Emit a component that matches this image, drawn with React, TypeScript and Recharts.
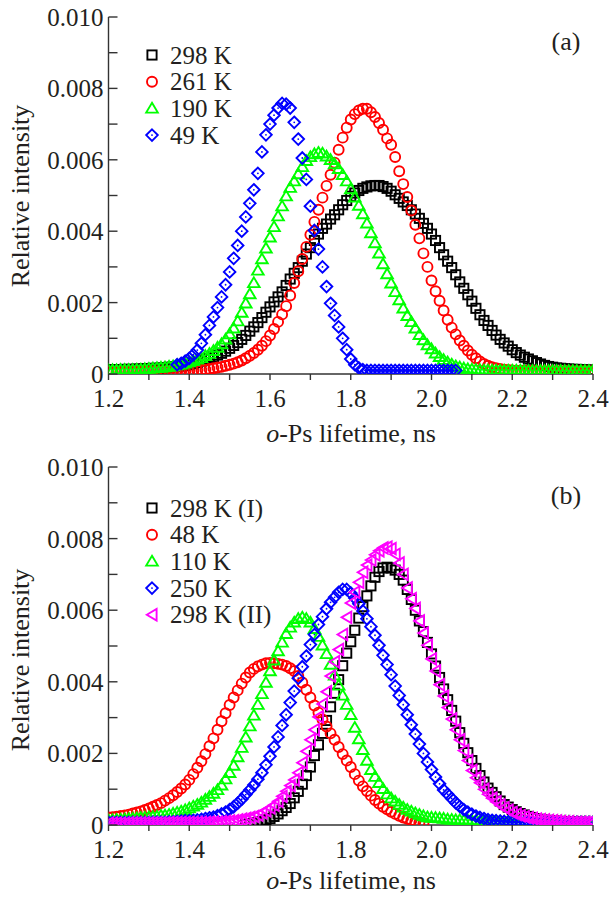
import { ScatterChart, Scatter, XAxis, YAxis, Legend } from "recharts";

type V = number | null;
type MarkerKind = "square" | "circle" | "triangle" | "diamond" | "left";

// o-Ps lifetime grid, ns
const lifetimes = [
  1.2, 1.21, 1.22, 1.23, 1.24, 1.25, 1.26, 1.27, 1.28, 1.29,
  1.3, 1.31, 1.32, 1.33, 1.34, 1.35, 1.36, 1.37, 1.38, 1.39,
  1.4, 1.41, 1.42, 1.43, 1.44, 1.45, 1.46, 1.47, 1.48, 1.49,
  1.5, 1.51, 1.52, 1.53, 1.54, 1.55, 1.56, 1.57, 1.58, 1.59,
  1.6, 1.61, 1.62, 1.63, 1.64, 1.65, 1.66, 1.67, 1.68, 1.69,
  1.7, 1.71, 1.72, 1.73, 1.74, 1.75, 1.76, 1.77, 1.78, 1.79,
  1.8, 1.81, 1.82, 1.83, 1.84, 1.85, 1.86, 1.87, 1.88, 1.89,
  1.9, 1.91, 1.92, 1.93, 1.94, 1.95, 1.96, 1.97, 1.98, 1.99,
  2.0, 2.01, 2.02, 2.03, 2.04, 2.05, 2.06, 2.07, 2.08, 2.09,
  2.1, 2.11, 2.12, 2.13, 2.14, 2.15, 2.16, 2.17, 2.18, 2.19,
  2.2, 2.21, 2.22, 2.23, 2.24, 2.25, 2.26, 2.27, 2.28, 2.29,
  2.3, 2.31, 2.32, 2.33, 2.34, 2.35, 2.36, 2.37, 2.38, 2.39,
  2.4,
];

// panel (a): relative intensity, units of 1e-3
const a298: V[] = [
  0.12, 0.12, 0.12, 0.12, 0.13, 0.13, 0.13, 0.14, 0.14, 0.15,
  0.15, 0.16, 0.16, 0.17, 0.18, 0.19, 0.2, 0.21, 0.22, 0.24,
  0.26, 0.29, 0.32, 0.36, 0.4, 0.44, 0.48, 0.53, 0.58, 0.64,
  0.72, 0.8, 0.88, 0.97, 1.08, 1.2, 1.32, 1.44, 1.58, 1.73,
  1.88, 2.02, 2.16, 2.3, 2.48, 2.66, 2.82, 2.98, 3.16, 3.36,
  3.54, 3.74, 3.92, 4.08, 4.2, 4.34, 4.46, 4.6, 4.74, 4.86,
  4.98, 5.07, 5.14, 5.2, 5.24, 5.27, 5.28, 5.28, 5.25, 5.2,
  5.12, 5.02, 4.92, 4.82, 4.72, 4.6, 4.48, 4.36, 4.22, 4.08,
  3.92, 3.74, 3.54, 3.34, 3.16, 2.98, 2.78, 2.58, 2.4, 2.22,
  2.04, 1.84, 1.66, 1.5, 1.36, 1.22, 1.09, 0.97, 0.87, 0.78,
  0.68, 0.6, 0.53, 0.47, 0.42, 0.37, 0.32, 0.28, 0.24, 0.21,
  0.19, 0.17, 0.16, 0.15, 0.14, 0.13, 0.13, 0.12, 0.12, 0.11,
  0.11,
];
const a261: V[] = [
  0.07, 0.07, 0.07, 0.07, 0.07, 0.07, 0.07, 0.07, 0.07, 0.07,
  0.07, 0.07, 0.07, 0.07, 0.07, 0.08, 0.08, 0.08, 0.08, 0.08,
  0.08, 0.09, 0.1, 0.11, 0.12, 0.14, 0.16, 0.18, 0.2, 0.23,
  0.26, 0.29, 0.33, 0.38, 0.44, 0.51, 0.59, 0.68, 0.79, 0.92,
  1.08, 1.26, 1.46, 1.67, 1.9, 2.2, 2.55, 2.88, 3.22, 3.56,
  3.9, 4.26, 4.6, 4.94, 5.27, 5.58, 5.92, 6.28, 6.62, 6.9,
  7.13, 7.28, 7.38, 7.43, 7.43, 7.33, 7.2, 7.03, 6.84, 6.6,
  6.42, 6.08, 5.68, 5.32, 4.96, 4.58, 4.18, 3.8, 3.38, 3.0,
  2.62, 2.32, 2.05, 1.78, 1.52, 1.3, 1.11, 0.94, 0.79, 0.66,
  0.54, 0.44, 0.35, 0.28, 0.23, 0.19, 0.16, 0.14, 0.12, 0.11,
  0.1, 0.09, 0.09, 0.09, 0.09, 0.09, 0.08, 0.08, 0.08, 0.08,
  0.08, 0.08, 0.08, 0.08, 0.08, 0.08, 0.08, 0.08, 0.08, 0.08,
  0.08,
];
const a190: V[] = [
  0.11, 0.11, 0.11, 0.12, 0.12, 0.12, 0.12, 0.13, 0.13, 0.14,
  0.15, 0.16, 0.17, 0.18, 0.19, 0.21, 0.22, 0.25, 0.27, 0.3,
  0.33, 0.37, 0.41, 0.45, 0.51, 0.57, 0.65, 0.74, 0.84, 0.97,
  1.12, 1.28, 1.48, 1.72, 1.98, 2.24, 2.55, 2.9, 3.22, 3.52,
  3.83, 4.12, 4.42, 4.7, 4.98, 5.22, 5.4, 5.6, 5.8, 5.97,
  6.08, 6.16, 6.2, 6.18, 6.1, 6.0, 5.88, 5.75, 5.58, 5.4,
  5.18, 4.95, 4.72, 4.48, 4.22, 3.95, 3.67, 3.38, 3.08, 2.8,
  2.54, 2.3, 2.07, 1.84, 1.63, 1.46, 1.28, 1.1, 0.95, 0.81,
  0.7, 0.58, 0.48, 0.4, 0.33, 0.27, 0.22, 0.19, 0.16, 0.14,
  0.13, 0.12, 0.11, 0.1, 0.1, 0.1, 0.1, 0.1, 0.1, 0.1,
  0.1, 0.1, 0.1, 0.09, 0.09, 0.09, 0.09, 0.09, 0.09, 0.09,
  0.09, 0.09, 0.09, 0.09, 0.09, 0.09, 0.09, 0.09, 0.09, 0.09,
  0.09,
];
const a49: V[] = [
  null, null, null, null, null, null, null, null, null, null,
  null, null, null, null, null, null, null, 0.26, 0.3, 0.36,
  0.44, 0.54, 0.67, 0.86, 1.1, 1.36, 1.6, 1.86, 2.16, 2.5,
  2.86, 3.24, 3.6, 4.0, 4.4, 4.78, 5.16, 5.62, 6.22, 6.7,
  7.0, 7.25, 7.45, 7.58, 7.56, 7.45, 7.05, 6.58, 6.05, 5.45,
  4.7, 4.02, 3.5, 3.0, 2.45, 1.98, 1.64, 1.32, 1.0, 0.68,
  0.42, 0.26, 0.17, 0.12, 0.1, 0.1, 0.1, 0.1, 0.1, 0.1,
  0.1, 0.1, 0.1, 0.1, 0.1, 0.1, 0.1, 0.1, 0.1, 0.1,
  0.1, 0.1, 0.1, 0.1, 0.1, 0.1, 0.1, null, null, null,
  null, null, null, null, null, null, null, null, null, null,
  null, null, null, null, null, null, null, null, null, null,
  null, null, null, null, null, null, null, null, null, null,
  null,
];

// panel (b): relative intensity, units of 1e-3
const b298I: V[] = [
  null, null, null, null, null, null, null, null, null, null,
  null, null, null, null, null, null, null, null, null, null,
  null, null, null, null, null, null, null, null, null, null,
  null, null, null, null, 0.02, 0.03, 0.05, 0.07, 0.1, 0.14,
  0.18, 0.24, 0.31, 0.4, 0.49, 0.6, 0.76, 0.94, 1.14, 1.38,
  1.62, 1.94, 2.24, 2.56, 2.92, 3.3, 3.68, 4.06, 4.45, 4.8,
  5.12, 5.44, 5.78, 6.1, 6.4, 6.68, 6.92, 7.08, 7.18, 7.2,
  7.18, 7.12, 7.0, 6.84, 6.58, 6.3, 6.0, 5.7, 5.4, 5.1,
  4.78, 4.44, 4.12, 3.8, 3.5, 3.2, 2.9, 2.58, 2.28, 2.02,
  1.8, 1.58, 1.38, 1.2, 1.03, 0.91, 0.79, 0.67, 0.57, 0.5,
  0.43, 0.37, 0.32, 0.28, 0.24, 0.21, 0.18, 0.16, 0.14, 0.13,
  0.12, 0.11, 0.1, 0.09, 0.09, 0.08, 0.08, 0.08, 0.07, 0.07,
  0.07,
];
const b48: V[] = [
  0.21, 0.22, 0.23, 0.25, 0.27, 0.29, 0.32, 0.35, 0.38, 0.42,
  0.46, 0.51, 0.56, 0.61, 0.68, 0.75, 0.83, 0.92, 1.02, 1.13,
  1.26, 1.42, 1.6, 1.78, 1.98, 2.2, 2.42, 2.66, 2.9, 3.12,
  3.35, 3.56, 3.76, 3.95, 4.12, 4.26, 4.36, 4.43, 4.48, 4.52,
  4.53, 4.52, 4.5, 4.48, 4.44, 4.38, 4.3, 4.16, 3.98, 3.78,
  3.56, 3.34, 3.14, 2.95, 2.75, 2.56, 2.38, 2.18, 1.98, 1.8,
  1.62, 1.42, 1.24, 1.08, 0.95, 0.82, 0.7, 0.6, 0.51, 0.44,
  0.37, 0.31, 0.26, 0.21, 0.17, 0.13, 0.1, 0.07, 0.05, null,
  null, null, null, null, null, null, null, null, null, null,
  null, null, null, null, null, null, null, null, null, null,
  null, null, null, null, null, null, null, null, null, null,
  null, null, null, null, null, null, null, null, null, null,
  null,
];
const b110: V[] = [
  0.14, 0.14, 0.15, 0.15, 0.16, 0.17, 0.18, 0.19, 0.2, 0.21,
  0.22, 0.23, 0.24, 0.26, 0.27, 0.29, 0.32, 0.35, 0.38, 0.42,
  0.47, 0.52, 0.57, 0.63, 0.71, 0.79, 0.88, 0.98, 1.11, 1.28,
  1.46, 1.66, 1.9, 2.16, 2.45, 2.76, 3.06, 3.36, 3.66, 3.98,
  4.3, 4.6, 4.86, 5.1, 5.34, 5.52, 5.66, 5.76, 5.8, 5.76,
  5.66, 5.48, 5.26, 5.02, 4.78, 4.48, 4.18, 3.9, 3.62, 3.36,
  3.08, 2.72, 2.4, 2.1, 1.8, 1.54, 1.35, 1.18, 1.01, 0.86,
  0.75, 0.66, 0.57, 0.49, 0.43, 0.38, 0.33, 0.29, 0.25, 0.22,
  0.21, 0.2, 0.19, 0.18, 0.16, 0.15, 0.14, 0.14, 0.13, 0.13,
  0.12, 0.12, 0.11, 0.11, 0.1, 0.1, 0.1, 0.1, 0.09, 0.09,
  0.09, 0.09, 0.09, 0.09, 0.09, 0.09, 0.09, 0.09, 0.09, 0.09,
  0.09, 0.09, 0.09, 0.09, 0.09, 0.08, 0.08, 0.08, 0.08, 0.08,
  0.08,
];
const b250: V[] = [
  0.07, 0.07, 0.07, 0.07, 0.07, 0.07, 0.07, 0.07, 0.07, 0.07,
  0.07, 0.08, 0.08, 0.08, 0.08, 0.09, 0.09, 0.1, 0.11, 0.12,
  0.12, 0.13, 0.14, 0.16, 0.18, 0.2, 0.22, 0.26, 0.31, 0.36,
  0.43, 0.51, 0.61, 0.72, 0.85, 0.98, 1.12, 1.28, 1.46, 1.68,
  1.92, 2.18, 2.46, 2.78, 3.08, 3.42, 3.74, 4.1, 4.42, 4.72,
  5.04, 5.32, 5.6, 5.82, 6.04, 6.22, 6.36, 6.5, 6.58, 6.58,
  6.48, 6.34, 6.18, 5.98, 5.76, 5.54, 5.3, 5.02, 4.74, 4.48,
  4.2, 3.88, 3.62, 3.36, 3.08, 2.8, 2.54, 2.26, 2.0, 1.76,
  1.55, 1.34, 1.15, 0.98, 0.86, 0.74, 0.62, 0.52, 0.43, 0.36,
  0.3, 0.25, 0.21, 0.18, 0.15, 0.13, 0.12, 0.11, 0.1, 0.09,
  0.09, 0.08, 0.08, 0.08, 0.08, 0.08, 0.08, 0.08, 0.07, 0.07,
  0.07, 0.07, 0.07, 0.07, 0.07, 0.07, 0.07, 0.07, 0.07, 0.07,
  0.07,
];
const b298II: V[] = [
  0.05, 0.05, 0.05, 0.05, 0.05, 0.06, 0.06, 0.06, 0.06, 0.06,
  0.06, 0.06, 0.06, 0.06, 0.06, 0.07, 0.07, 0.07, 0.07, 0.07,
  0.07, 0.07, 0.07, 0.07, 0.07, 0.08, 0.08, 0.08, 0.09, 0.1,
  0.11, 0.12, 0.14, 0.16, 0.18, 0.21, 0.24, 0.28, 0.34, 0.4,
  0.48, 0.56, 0.66, 0.8, 0.94, 1.1, 1.26, 1.46, 1.74, 2.06,
  2.38, 2.66, 3.02, 3.38, 3.72, 4.16, 4.56, 4.9, 5.32, 5.8,
  6.2, 6.5, 6.78, 7.06, 7.26, 7.4, 7.55, 7.66, 7.74, 7.76,
  7.72, 7.56, 7.32, 7.0, 6.62, 6.32, 6.05, 5.7, 5.36, 5.02,
  4.64, 4.3, 3.92, 3.6, 3.28, 2.96, 2.66, 2.38, 2.08, 1.8,
  1.52, 1.32, 1.18, 1.0, 0.86, 0.75, 0.65, 0.56, 0.48, 0.41,
  0.35, 0.3, 0.26, 0.23, 0.2, 0.18, 0.16, 0.15, 0.14, 0.13,
  0.12, 0.11, 0.1, 0.09, 0.09, 0.08, 0.08, 0.08, 0.08, 0.08,
  0.08,
];

const xTicks = [1.2, 1.3, 1.4, 1.5, 1.6, 1.7, 1.8, 1.9, 2.0, 2.1, 2.2, 2.3, 2.4];
const yTicks = [0, 0.001, 0.002, 0.003, 0.004, 0.005, 0.006, 0.007, 0.008, 0.009, 0.01];

interface Series {
  name: string;
  values: V[];
  color: string;
  marker: MarkerKind;
}

const panelA: Series[] = [
  { name: "298 K", values: a298, color: "#000000", marker: "square" },
  { name: "261 K", values: a261, color: "#ff0000", marker: "circle" },
  { name: "190 K", values: a190, color: "#00ff00", marker: "triangle" },
  { name: "49 K", values: a49, color: "#0000ff", marker: "diamond" },
];

const panelB: Series[] = [
  { name: "298 K (I)", values: b298I, color: "#000000", marker: "square" },
  { name: "48 K", values: b48, color: "#ff0000", marker: "circle" },
  { name: "110 K", values: b110, color: "#00ff00", marker: "triangle" },
  { name: "250 K", values: b250, color: "#0000ff", marker: "diamond" },
  { name: "298 K (II)", values: b298II, color: "#ff00ff", marker: "left" },
];

const FONT = "'Liberation Serif', 'DejaVu Serif', serif";
const INK = "#231f20";
const AXIS = "#333333";

function toPoints(values: V[]) {
  const out: { t: number; v: number }[] = [];
  lifetimes.forEach((t, i) => {
    const v = values[i];
    if (v != null) out.push({ t, v: v / 1000 });
  });
  return out;
}

function Marker({ kind, cx, cy, color }: { kind: MarkerKind; cx: number; cy: number; color: string }) {
  const sw = 1.9;
  switch (kind) {
    case "square":
      return <rect x={cx - 4.6} y={cy - 4.6} width={9.2} height={9.2} fill="none" stroke={color} strokeWidth={sw} />;
    case "circle":
      return <circle cx={cx} cy={cy} r={5} fill="none" stroke={color} strokeWidth={sw} />;
    case "triangle":
      return (
        <polygon
          points={`${cx},${cy - 5.6} ${cx + 5.8},${cy + 4.2} ${cx - 5.8},${cy + 4.2}`}
          fill="none"
          stroke={color}
          strokeWidth={sw}
        />
      );
    case "diamond":
      return (
        <g>
          <polygon
            points={`${cx},${cy - 5.8} ${cx + 5.8},${cy} ${cx},${cy + 5.8} ${cx - 5.8},${cy}`}
            fill="none"
            stroke={color}
            strokeWidth={sw}
          />
          <circle cx={cx} cy={cy} r={0.9} fill={color} />
        </g>
      );
    case "left":
      return (
        <polygon
          points={`${cx - 5.2},${cy} ${cx + 4.6},${cy - 5.8} ${cx + 4.6},${cy + 5.8}`}
          fill="none"
          stroke={color}
          strokeWidth={sw}
        />
      );
  }
}

function XTick(props: { x?: number; y?: number; payload?: { value: number } }) {
  const { x = 0, y = 0, payload } = props;
  const v = payload?.value ?? 0;
  if (Math.round(v * 10) % 2 !== 0) return null;
  return (
    <text x={x} y={y + 27} textAnchor="middle" fill={INK} fontSize={25} fontFamily={FONT}>
      {v.toFixed(1)}
    </text>
  );
}

function YTick(props: { x?: number; y?: number; payload?: { value: number } }) {
  const { x = 0, y = 0, payload } = props;
  const v = payload?.value ?? 0;
  const major = Math.round(v * 1000) % 2 === 0;
  return (
    <g>
      <line x1={x} x2={x + 9} y1={y} y2={y} stroke={AXIS} strokeWidth={1.4} />
      {major && (
        <text x={x - 5} y={y + 9} textAnchor="end" fill={INK} fontSize={25} fontFamily={FONT}>
          {v === 0 ? "0" : v.toFixed(3)}
        </text>
      )}
    </g>
  );
}

interface PanelProps {
  series: Series[];
  tag: string;
  height: number;
  bottom: number;
  tagBaseline: number;
  legendTop: number;
  yTitleCenter: number;
}

function Panel({ series, tag, height, bottom, tagBaseline, legendTop, yTitleCenter }: PanelProps) {
  const axisLine = { stroke: AXIS, strokeWidth: 1.4 };
  return (
    <div style={{ position: "relative", width: 612, height }}>
      <ScatterChart width={612} height={height} margin={{ top: 17, right: 19, bottom, left: 0 }}>
        <XAxis
          type="number"
          dataKey="t"
          domain={[1.2, 2.4]}
          ticks={xTicks}
          interval={0}
          allowDataOverflow
          height={40}
          tickSize={6}
          tickMargin={0}
          axisLine={axisLine}
          tickLine={axisLine}
          tick={<XTick />}
        />
        <XAxis
          xAxisId="top"
          orientation="top"
          type="number"
          domain={[1.2, 2.4]}
          height={0}
          tick={false}
          tickLine={false}
          axisLine={axisLine}
        />
        <YAxis
          type="number"
          dataKey="v"
          domain={[0, 0.01]}
          ticks={yTicks}
          interval={0}
          allowDataOverflow
          width={108.5}
          tickSize={0}
          tickMargin={0}
          tickLine={false}
          axisLine={axisLine}
          tick={<YTick />}
        />
        <YAxis
          yAxisId="right"
          orientation="right"
          type="number"
          domain={[0, 0.01]}
          width={0}
          tick={false}
          tickLine={false}
          axisLine={axisLine}
        />
        {series.map((s) => (
          <Scatter
            key={s.name}
            name={s.name}
            data={toPoints(s.values)}
            isAnimationActive={false}
            shape={(p: { cx?: number; cy?: number }) => (
              <Marker kind={s.marker} cx={p.cx ?? 0} cy={p.cy ?? 0} color={s.color} />
            )}
          />
        ))}
        <Legend
          layout="vertical"
          align="center"
          verticalAlign="middle"
          wrapperStyle={{ left: 0, top: 0, width: 300, height: 200 }}
          content={() => (
            <svg width={300} height={200}>
              {series.map((s, i) => {
                const cy = legendTop + i * 26.7;
                return (
                  <g key={s.name}>
                    <Marker kind={s.marker} cx={152} cy={cy} color={s.color} />
                    <text x={170} y={cy + 8.5} fill={INK} fontSize={25} fontFamily={FONT}>
                      {s.name}
                    </text>
                  </g>
                );
              })}
            </svg>
          )}
        />
      </ScatterChart>
      <svg
        width={612}
        height={height}
        style={{ position: "absolute", left: 0, top: 0, pointerEvents: "none" }}
      >
        <text x={351} y={height - 8} textAnchor="middle" fill={INK} fontSize={26} fontFamily={FONT}>
          <tspan fontStyle="italic">o</tspan>-Ps lifetime, ns
        </text>
        <text
          x={29}
          y={yTitleCenter}
          transform={`rotate(-90, 29, ${yTitleCenter})`}
          textAnchor="middle"
          fill={INK}
          fontSize={26}
          fontFamily={FONT}
        >
          Relative intensity
        </text>
        <text x={566} y={tagBaseline} textAnchor="middle" fill={INK} fontSize={26} fontFamily={FONT}>
          {tag}
        </text>
      </svg>
    </div>
  );
}

export default function App() {
  return (
    <div style={{ position: "absolute", left: 0, top: 0, width: 612, height: 897, background: "#ffffff" }}>
      <Panel series={panelA} tag="(a)" height={450} bottom={36} tagBaseline={50} legendTop={55} yTitleCenter={196} />
      <Panel series={panelB} tag="(b)" height={447} bottom={32} tagBaseline={54} legendTop={58} yTitleCenter={210} />
    </div>
  );
}
